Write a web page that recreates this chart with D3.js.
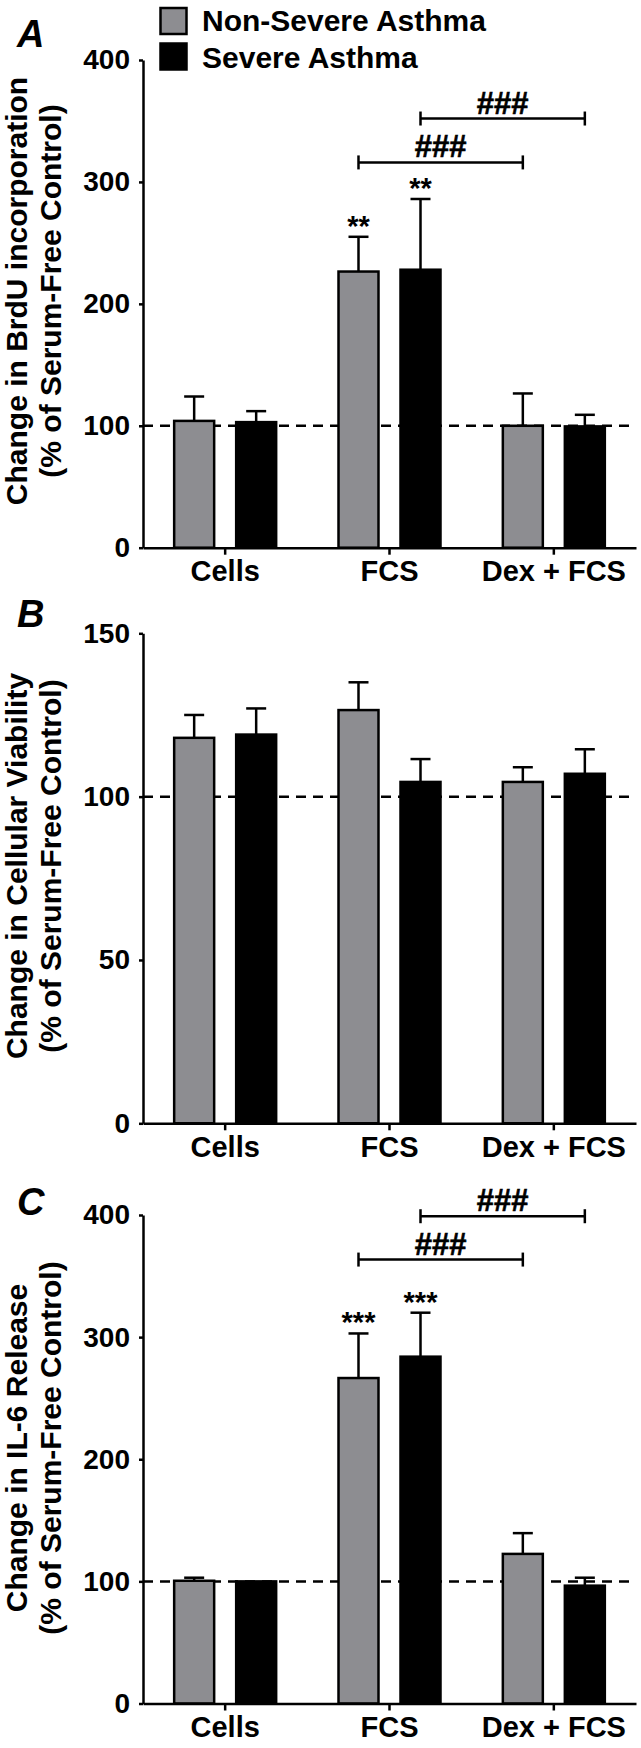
<!DOCTYPE html>
<html><head><meta charset="utf-8">
<script src="https://cdn.jsdelivr.net/npm/d3@7"></script>
<style>
body{margin:0;background:#fff}
svg{display:block}
text{font-family:"Liberation Sans",Arial,Helvetica,sans-serif;font-weight:bold;fill:#000}
</style>
</head><body>
<svg id="chart" width="641" height="1748"></svg>
<script>
// ---------- data ----------
const categories = ["Cells", "FCS", "Dex + FCS"];
const seriesNames = ["Non-Severe Asthma", "Severe Asthma"];
const seriesColors = ["#8d8d91", "#000000"];

// Panel A: BrdU incorporation
const brduNonSevere    = [104, 226.5, 100];
const brduNonSevereErr = [20, 28.5, 26.5];
const brduSevere       = [103, 228, 99.5];
const brduSevereErr    = [9, 58, 9.5];
const brduTicks        = [0, 100, 200, 300, 400];
const brduStars        = ["", "**", ""];
const brduStarsSevere  = ["", "**", ""];
const brduBracketLevels = [316, 352];

// Panel B: cellular viability
const viabNonSevere    = [118, 126.5, 104.5];
const viabNonSevereErr = [7, 8.5, 4.5];
const viabSevere       = [119, 104.5, 107];
const viabSevereErr    = [8, 7, 7.5];
const viabTicks        = [0, 50, 100, 150];

// Panel C: IL-6 release
const il6NonSevere    = [100.5, 266.5, 122.5];
const il6NonSevereErr = [2.5, 36.5, 17];
const il6Severe       = [100, 284, 96.5];
const il6SevereErr    = [0, 36, 6.5];
const il6Ticks        = [0, 100, 200, 300, 400];
const il6Stars        = ["", "***", ""];
const il6StarsSevere  = ["", "***", ""];
const il6BracketLevels = [363.5, 399];

const bracketLabel = "###";
const referenceLevel = 100;

// ---------- drawing ----------
const svg = d3.select("#chart");
const axisLeftX = 143, axisRightX = 636;

const x = d3.scaleBand().domain(categories).range([axisLeftX, axisRightX]);
const xs = d3.scaleBand().domain(seriesNames).range([-51, 51]).paddingInner(0.355);
const cx = (c, s) => x(c) + x.bandwidth() / 2 + xs(s) + xs.bandwidth() / 2;

function drawPanel(cfg) {
  const g = svg.append("g");
  const y = d3.scaleLinear().domain([0, cfg.max]).range([cfg.bottom, cfg.top]);

  // dashed reference line
  g.append("line")
    .attr("x1", axisLeftX).attr("x2", axisRightX)
    .attr("y1", y(referenceLevel)).attr("y2", y(referenceLevel))
    .attr("stroke", "#000").attr("stroke-width", 2.5)
    .attr("stroke-dasharray", "10,7");

  const rows = [];
  categories.forEach((c, i) => {
    seriesNames.forEach((s, j) => {
      rows.push({c, s, j, v: cfg.vals[j][i], e: cfg.errs[j][i], star: cfg.stars ? cfg.stars[j][i] : ""});
    });
  });

  // error bars
  rows.filter(d => d.e > 0).forEach(d => {
    const px = cx(d.c, d.s);
    g.append("line").attr("x1", px).attr("x2", px)
      .attr("y1", y(d.v)).attr("y2", y(d.v + d.e))
      .attr("stroke", "#000").attr("stroke-width", 2.5);
    g.append("line").attr("x1", px - 10).attr("x2", px + 10)
      .attr("y1", y(d.v + d.e)).attr("y2", y(d.v + d.e))
      .attr("stroke", "#000").attr("stroke-width", 2.5);
  });

  // bars
  g.selectAll("rect.bar").data(rows).enter().append("rect")
    .attr("class", "bar")
    .attr("x", d => cx(d.c, d.s) - xs.bandwidth() / 2)
    .attr("width", xs.bandwidth())
    .attr("y", d => y(d.v))
    .attr("height", d => y(0) - y(d.v))
    .attr("fill", d => seriesColors[d.j])
    .attr("stroke", "#000").attr("stroke-width", 2.5);

  // significance stars
  rows.filter(d => d.star).forEach(d => {
    g.append("text").attr("x", cx(d.c, d.s)).attr("y", y(d.v + d.e) - 1)
      .attr("text-anchor", "middle").style("font-size", "29px").text(d.star);
  });

  // brackets (FCS vs Dex + FCS for each series)
  if (cfg.brackets) {
    seriesNames.forEach((s, j) => {
      const x1 = cx(categories[1], s), x2 = cx(categories[2], s);
      const by = y(cfg.brackets[j]);
      g.append("line").attr("x1", x1).attr("x2", x2).attr("y1", by).attr("y2", by)
        .attr("stroke", "#000").attr("stroke-width", 2.5);
      [x1, x2].forEach(xx => g.append("line").attr("x1", xx).attr("x2", xx)
        .attr("y1", by - 7).attr("y2", by + 7).attr("stroke", "#000").attr("stroke-width", 2.5));
      g.append("text").attr("x", (x1 + x2) / 2).attr("y", by - 5)
        .attr("text-anchor", "middle").style("font-size", "31px")
        .attr("stroke", "#000").attr("stroke-width", 0.6).text(bracketLabel);
    });
  }

  // axes
  const ya = g.append("g").attr("transform", `translate(${axisLeftX},0)`)
    .call(d3.axisLeft(y).tickValues(cfg.ticks).tickSize(4).tickSizeOuter(0).tickPadding(9));
  ya.select(".domain").attr("stroke", "#000").attr("stroke-width", 2.5);
  ya.selectAll(".tick line").attr("stroke", "#000").attr("stroke-width", 2.5);
  ya.selectAll(".tick text").style("font-size", "28px").attr("fill", "#000")
    .attr("font-family", null);

  const xa = g.append("g").attr("transform", `translate(0,${cfg.bottom})`)
    .call(d3.axisBottom(x).tickSize(7).tickSizeOuter(0).tickPadding(6));
  xa.select(".domain").attr("stroke", "#000").attr("stroke-width", 2.5);
  xa.selectAll(".tick line").attr("stroke", "#000").attr("stroke-width", 2.5);
  xa.selectAll(".tick text").style("font-size", "29px").attr("fill", "#000")
    .attr("font-family", null).attr("dy", "0.71em");

  // panel letter
  g.append("text").attr("x", 17).attr("y", cfg.letterY)
    .style("font-size", "38px").style("font-style", "italic").text(cfg.letter);

  // y title
  cfg.title.forEach((t, k) => {
    g.append("text")
      .attr("transform", `translate(${k === 0 ? 27 : 61},${cfg.titleCenter}) rotate(-90)`)
      .attr("text-anchor", "middle").style("font-size", "30px").text(t);
  });
}

drawPanel({
  letter: "A", letterY: 47, top: 60, bottom: 547.7, max: 400, ticks: brduTicks,
  vals: [brduNonSevere, brduSevere], errs: [brduNonSevereErr, brduSevereErr],
  stars: [brduStars, brduStarsSevere], brackets: brduBracketLevels,
  title: ["Change in BrdU incorporation", "(% of Serum-Free Control)"], titleCenter: 291
});
drawPanel({
  letter: "B", letterY: 627, top: 633.3, bottom: 1123.3, max: 150, ticks: viabTicks,
  vals: [viabNonSevere, viabSevere], errs: [viabNonSevereErr, viabSevereErr],
  stars: null, brackets: null,
  title: ["Change in Cellular Viability", "(% of Serum-Free Control)"], titleCenter: 866
});
drawPanel({
  letter: "C", letterY: 1215, top: 1215, bottom: 1703.5, max: 400, ticks: il6Ticks,
  vals: [il6NonSevere, il6Severe], errs: [il6NonSevereErr, il6SevereErr],
  stars: [il6Stars, il6StarsSevere], brackets: il6BracketLevels,
  title: ["Change in IL-6 Release", "(% of Serum-Free Control)"], titleCenter: 1448
});

// legend
const legend = svg.append("g");
seriesNames.forEach((s, j) => {
  legend.append("rect").attr("x", 160.5).attr("y", 8 + j * 35.5).attr("width", 26).attr("height", 26)
    .attr("fill", seriesColors[j]).attr("stroke", "#000").attr("stroke-width", 2.5);
  legend.append("text").attr("x", 202).attr("y", 31 + j * 37)
    .style("font-size", "30px").text(s);
});
</script>
</body></html>
